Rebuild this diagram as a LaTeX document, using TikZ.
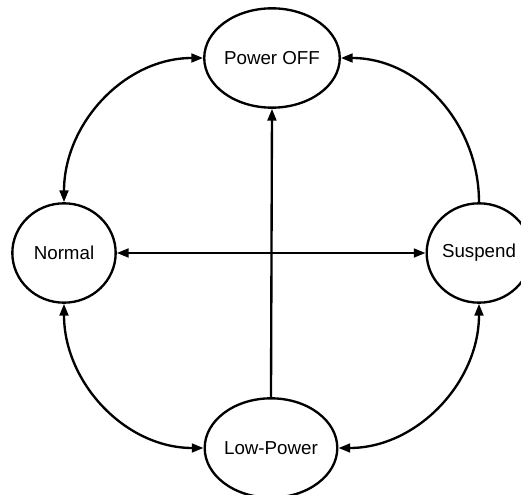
\documentclass[tikz,border=0pt]{standalone}
\usepackage{fontspec}
\setmainfont{Liberation Sans}
\usetikzlibrary{shapes.geometric,arrows.meta,positioning}

\begin{document}
\begin{tikzpicture}[x=0.03cm,y=0.03cm,
    state/.style={ellipse,draw,line width=2pt,minimum width=3.1cm,minimum height=2.98cm,inner sep=0pt,font=\fontsize{16}{19}\selectfont},
    link/.style={line width=2pt,-{Triangle[length=10pt,width=7.5pt]}},
    dlink/.style={link,{Triangle[length=10pt,width=7.5pt]}-{Triangle[length=10pt,width=7.5pt]}}]
    \useasboundingbox (0,0) rectangle (521,495);

    % States
    \node[state] (off) at (272,437) {Power OFF};
    \node[state] (normal) at (64,242) {Normal};
    \node[state] (suspend) at (479,242) {Suspend};
    \node[state] (low) at (271,47) {Low-Power};

    % Transitions
    \draw[dlink] (off.west) to[out=180,in=90] (normal.north);
    \draw[link] (suspend.north) to[out=90,in=0] (off.east);
    \draw[dlink] (normal.east) -- (suspend.west);
    \draw[link] (low.north) -- (off.south);
    \draw[dlink] (normal.south) to[out=-90,in=180] (low.west);
    \draw[dlink] (suspend.south) to[out=-90,in=0] (low.east);
\end{tikzpicture}
\end{document}
